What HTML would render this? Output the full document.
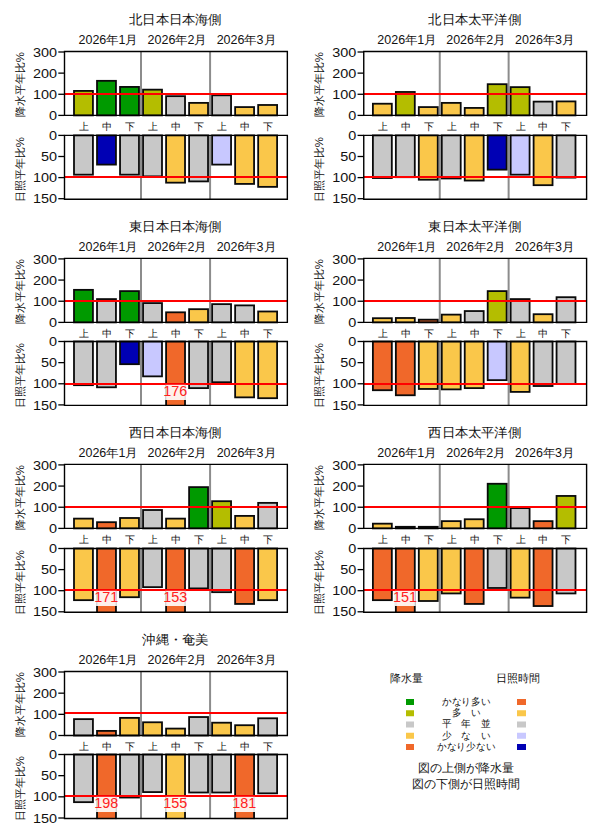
<!DOCTYPE html>
<html lang="ja"><head><meta charset="utf-8"><title>平年比</title>
<style>
html,body{margin:0;padding:0;background:#fff;width:600px;height:840px;overflow:hidden}
svg{display:block}
text{font-family:"Liberation Sans",sans-serif;fill:#111}
.t{font-size:13px}
.m{font-size:12px}
.n{font-size:13px}
.k{font-size:11px}
.ya{font-size:11.4px}
.ov{font-size:14.4px;fill:#ff2020}
.lg{font-size:11.3px}
.lb{font-size:11.5px}
.ln{font-size:10px}
.bar{stroke:#0a0a0a;stroke-width:1.8}
.rl{stroke:#ff0000;stroke-width:2}
.dv{stroke:#8c8c8c;stroke-width:2}
.fr{fill:none;stroke:#000;stroke-width:1.4}
.tk{stroke:#000;stroke-width:1.3}
</style></head><body>
<svg width="600" height="840" viewBox="0 0 600 840">
<g>
<text class="t" transform="translate(175.4 23.6) scale(1.035 1)" text-anchor="middle">北日本日本海側</text>
<text class="m" transform="translate(108.09 43.8) scale(1.04 1)" text-anchor="middle">2026年1月</text>
<text class="m" transform="translate(177.15 43.8) scale(1.04 1)" text-anchor="middle">2026年2月</text>
<text class="m" transform="translate(246.21 43.8) scale(1.04 1)" text-anchor="middle">2026年3月</text>
<line class="dv" x1="141.02" y1="51.5" x2="141.02" y2="115.4"/>
<line class="dv" x1="141.02" y1="135.4" x2="141.02" y2="199.2"/>
<line class="dv" x1="210.08" y1="51.5" x2="210.08" y2="115.4"/>
<line class="dv" x1="210.08" y1="135.4" x2="210.08" y2="199.2"/>
<rect x="74" y="90.91" width="18.93" height="24.49" fill="#b4bd00" class="bar"/>
<rect x="97.02" y="80.83" width="18.93" height="34.57" fill="#009a00" class="bar"/>
<rect x="120.04" y="86.92" width="18.93" height="28.48" fill="#009a00" class="bar"/>
<rect x="143.06" y="89.65" width="18.93" height="25.75" fill="#b4bd00" class="bar"/>
<rect x="166.09" y="96.16" width="18.93" height="19.24" fill="#c8c8c8" class="bar"/>
<rect x="189.1" y="102.88" width="18.93" height="12.52" fill="#fac74a" class="bar"/>
<rect x="212.12" y="95.32" width="18.93" height="20.08" fill="#c8c8c8" class="bar"/>
<rect x="235.14" y="107.08" width="18.93" height="8.32" fill="#fac74a" class="bar"/>
<rect x="258.17" y="104.98" width="18.93" height="10.42" fill="#fac74a" class="bar"/>
<rect x="74" y="135.4" width="18.93" height="39.28" fill="#c8c8c8" class="bar"/>
<rect x="97.02" y="135.4" width="18.93" height="29.2" fill="#0000b4" class="bar"/>
<rect x="120.04" y="135.4" width="18.93" height="39.28" fill="#c8c8c8" class="bar"/>
<rect x="143.06" y="135.4" width="18.93" height="40.96" fill="#c8c8c8" class="bar"/>
<rect x="166.09" y="135.4" width="18.93" height="47.26" fill="#fac74a" class="bar"/>
<rect x="189.1" y="135.4" width="18.93" height="46" fill="#c8c8c8" class="bar"/>
<rect x="212.12" y="135.4" width="18.93" height="29.2" fill="#c8c8ff" class="bar"/>
<rect x="235.14" y="135.4" width="18.93" height="48.52" fill="#fac74a" class="bar"/>
<rect x="258.17" y="135.4" width="18.93" height="51.46" fill="#fac74a" class="bar"/>
<rect x="63.5" y="199.8" width="224.85" height="7" fill="#fff"/>
<line class="rl" x1="64.5" y1="93.9" x2="287.35" y2="93.9"/>
<line class="rl" x1="64.5" y1="177.05" x2="287.35" y2="177.05"/>
<path class="fr" d="M64.5 51.5H287.35V115.4H64.5Z"/>
<path class="fr" d="M64.5 135.4H287.35V199.2H64.5Z"/>
<line class="tk" x1="58.3" y1="115.4" x2="64.5" y2="115.4"/>
<text class="n" transform="translate(57 120) scale(1.11 1)" text-anchor="end">0</text>
<line class="tk" x1="58.3" y1="94.27" x2="64.5" y2="94.27"/>
<text class="n" transform="translate(57 98.87) scale(1.11 1)" text-anchor="end">100</text>
<line class="tk" x1="58.3" y1="73.13" x2="64.5" y2="73.13"/>
<text class="n" transform="translate(57 77.73) scale(1.11 1)" text-anchor="end">200</text>
<line class="tk" x1="58.3" y1="52" x2="64.5" y2="52"/>
<text class="n" transform="translate(57 56.6) scale(1.11 1)" text-anchor="end">300</text>
<line class="tk" x1="58.3" y1="135.4" x2="64.5" y2="135.4"/>
<text class="n" transform="translate(57 140) scale(1.11 1)" text-anchor="end">0</text>
<line class="tk" x1="58.3" y1="156.5" x2="64.5" y2="156.5"/>
<text class="n" transform="translate(57 161.1) scale(1.11 1)" text-anchor="end">50</text>
<line class="tk" x1="58.3" y1="177.6" x2="64.5" y2="177.6"/>
<text class="n" transform="translate(57 182.2) scale(1.11 1)" text-anchor="end">100</text>
<line class="tk" x1="58.3" y1="198.7" x2="64.5" y2="198.7"/>
<text class="n" transform="translate(57 203.3) scale(1.11 1)" text-anchor="end">150</text>
<text class="ya" transform="translate(23.8 84.7) rotate(-90)" text-anchor="middle">降水平年比%</text>
<text class="ya" transform="translate(23.8 169.6) rotate(-90)" text-anchor="middle">日照平年比%</text>
<text class="k" transform="translate(83.87 130.3) scale(0.92)" text-anchor="middle">上</text>
<text class="k" transform="translate(106.89 130.3) scale(0.92)" text-anchor="middle">中</text>
<text class="k" transform="translate(129.91 130.3) scale(0.92)" text-anchor="middle">下</text>
<text class="k" transform="translate(152.93 130.3) scale(0.92)" text-anchor="middle">上</text>
<text class="k" transform="translate(175.95 130.3) scale(0.92)" text-anchor="middle">中</text>
<text class="k" transform="translate(198.97 130.3) scale(0.92)" text-anchor="middle">下</text>
<text class="k" transform="translate(221.99 130.3) scale(0.92)" text-anchor="middle">上</text>
<text class="k" transform="translate(245.01 130.3) scale(0.92)" text-anchor="middle">中</text>
<text class="k" transform="translate(268.03 130.3) scale(0.92)" text-anchor="middle">下</text>
</g>
<g>
<text class="t" transform="translate(474.65 23.6) scale(1.035 1)" text-anchor="middle">北日本太平洋側</text>
<text class="m" transform="translate(406.91 43.8) scale(1.04 1)" text-anchor="middle">2026年1月</text>
<text class="m" transform="translate(475.79 43.8) scale(1.04 1)" text-anchor="middle">2026年2月</text>
<text class="m" transform="translate(544.67 43.8) scale(1.04 1)" text-anchor="middle">2026年3月</text>
<line class="dv" x1="439.75" y1="51.5" x2="439.75" y2="115.4"/>
<line class="dv" x1="439.75" y1="135.4" x2="439.75" y2="199.2"/>
<line class="dv" x1="508.63" y1="51.5" x2="508.63" y2="115.4"/>
<line class="dv" x1="508.63" y1="135.4" x2="508.63" y2="199.2"/>
<rect x="372.89" y="103.72" width="18.93" height="11.68" fill="#fac74a" class="bar"/>
<rect x="395.85" y="91.96" width="18.93" height="23.44" fill="#b4bd00" class="bar"/>
<rect x="418.81" y="107.08" width="18.93" height="8.32" fill="#fac74a" class="bar"/>
<rect x="441.77" y="102.88" width="18.93" height="12.52" fill="#fac74a" class="bar"/>
<rect x="464.73" y="107.92" width="18.93" height="7.48" fill="#fac74a" class="bar"/>
<rect x="487.69" y="84.19" width="18.93" height="31.21" fill="#b4bd00" class="bar"/>
<rect x="510.65" y="87.13" width="18.93" height="28.27" fill="#b4bd00" class="bar"/>
<rect x="533.61" y="101.62" width="18.93" height="13.78" fill="#c8c8c8" class="bar"/>
<rect x="556.56" y="101.41" width="18.93" height="13.99" fill="#fac74a" class="bar"/>
<rect x="372.89" y="135.4" width="18.93" height="42.64" fill="#c8c8c8" class="bar"/>
<rect x="395.85" y="135.4" width="18.93" height="41.8" fill="#c8c8c8" class="bar"/>
<rect x="418.81" y="135.4" width="18.93" height="44.32" fill="#fac74a" class="bar"/>
<rect x="441.77" y="135.4" width="18.93" height="43.06" fill="#c8c8c8" class="bar"/>
<rect x="464.73" y="135.4" width="18.93" height="45.16" fill="#fac74a" class="bar"/>
<rect x="487.69" y="135.4" width="18.93" height="34.24" fill="#0000b4" class="bar"/>
<rect x="510.65" y="135.4" width="18.93" height="39.28" fill="#c8c8ff" class="bar"/>
<rect x="533.61" y="135.4" width="18.93" height="49.78" fill="#fac74a" class="bar"/>
<rect x="556.56" y="135.4" width="18.93" height="42.22" fill="#c8c8c8" class="bar"/>
<rect x="362.75" y="199.8" width="224.85" height="7" fill="#fff"/>
<line class="rl" x1="363.75" y1="93.9" x2="586.6" y2="93.9"/>
<line class="rl" x1="363.75" y1="177.05" x2="586.6" y2="177.05"/>
<path class="fr" d="M363.75 51.5H586.6V115.4H363.75Z"/>
<path class="fr" d="M363.75 135.4H586.6V199.2H363.75Z"/>
<line class="tk" x1="357.55" y1="115.4" x2="363.75" y2="115.4"/>
<text class="n" transform="translate(356.25 120) scale(1.11 1)" text-anchor="end">0</text>
<line class="tk" x1="357.55" y1="94.27" x2="363.75" y2="94.27"/>
<text class="n" transform="translate(356.25 98.87) scale(1.11 1)" text-anchor="end">100</text>
<line class="tk" x1="357.55" y1="73.13" x2="363.75" y2="73.13"/>
<text class="n" transform="translate(356.25 77.73) scale(1.11 1)" text-anchor="end">200</text>
<line class="tk" x1="357.55" y1="52" x2="363.75" y2="52"/>
<text class="n" transform="translate(356.25 56.6) scale(1.11 1)" text-anchor="end">300</text>
<line class="tk" x1="357.55" y1="135.4" x2="363.75" y2="135.4"/>
<text class="n" transform="translate(356.25 140) scale(1.11 1)" text-anchor="end">0</text>
<line class="tk" x1="357.55" y1="156.5" x2="363.75" y2="156.5"/>
<text class="n" transform="translate(356.25 161.1) scale(1.11 1)" text-anchor="end">50</text>
<line class="tk" x1="357.55" y1="177.6" x2="363.75" y2="177.6"/>
<text class="n" transform="translate(356.25 182.2) scale(1.11 1)" text-anchor="end">100</text>
<line class="tk" x1="357.55" y1="198.7" x2="363.75" y2="198.7"/>
<text class="n" transform="translate(356.25 203.3) scale(1.11 1)" text-anchor="end">150</text>
<text class="ya" transform="translate(323.05 84.7) rotate(-90)" text-anchor="middle">降水平年比%</text>
<text class="ya" transform="translate(323.05 169.6) rotate(-90)" text-anchor="middle">日照平年比%</text>
<text class="k" transform="translate(382.75 130.3) scale(0.92)" text-anchor="middle">上</text>
<text class="k" transform="translate(405.71 130.3) scale(0.92)" text-anchor="middle">中</text>
<text class="k" transform="translate(428.67 130.3) scale(0.92)" text-anchor="middle">下</text>
<text class="k" transform="translate(451.63 130.3) scale(0.92)" text-anchor="middle">上</text>
<text class="k" transform="translate(474.59 130.3) scale(0.92)" text-anchor="middle">中</text>
<text class="k" transform="translate(497.55 130.3) scale(0.92)" text-anchor="middle">下</text>
<text class="k" transform="translate(520.51 130.3) scale(0.92)" text-anchor="middle">上</text>
<text class="k" transform="translate(543.47 130.3) scale(0.92)" text-anchor="middle">中</text>
<text class="k" transform="translate(566.43 130.3) scale(0.92)" text-anchor="middle">下</text>
</g>
<g>
<text class="t" transform="translate(175.4 230.5) scale(1.035 1)" text-anchor="middle">東日本日本海側</text>
<text class="m" transform="translate(108.09 250.7) scale(1.04 1)" text-anchor="middle">2026年1月</text>
<text class="m" transform="translate(177.15 250.7) scale(1.04 1)" text-anchor="middle">2026年2月</text>
<text class="m" transform="translate(246.21 250.7) scale(1.04 1)" text-anchor="middle">2026年3月</text>
<line class="dv" x1="141.02" y1="258.4" x2="141.02" y2="322.4"/>
<line class="dv" x1="141.02" y1="341.5" x2="141.02" y2="405.4"/>
<line class="dv" x1="210.08" y1="258.4" x2="210.08" y2="322.4"/>
<line class="dv" x1="210.08" y1="341.5" x2="210.08" y2="405.4"/>
<rect x="74" y="289.85" width="18.93" height="32.55" fill="#009a00" class="bar"/>
<rect x="97.02" y="299.09" width="18.93" height="23.31" fill="#c8c8c8" class="bar"/>
<rect x="120.04" y="291.11" width="18.93" height="31.29" fill="#009a00" class="bar"/>
<rect x="143.06" y="303.08" width="18.93" height="19.32" fill="#c8c8c8" class="bar"/>
<rect x="166.09" y="312.32" width="18.93" height="10.08" fill="#f0682a" class="bar"/>
<rect x="189.1" y="309.17" width="18.93" height="13.23" fill="#fac74a" class="bar"/>
<rect x="212.12" y="304.13" width="18.93" height="18.27" fill="#c8c8c8" class="bar"/>
<rect x="235.14" y="305.39" width="18.93" height="17.01" fill="#c8c8c8" class="bar"/>
<rect x="258.17" y="311.48" width="18.93" height="10.92" fill="#fac74a" class="bar"/>
<rect x="74" y="341.5" width="18.93" height="43.68" fill="#c8c8c8" class="bar"/>
<rect x="97.02" y="341.5" width="18.93" height="45.78" fill="#c8c8c8" class="bar"/>
<rect x="120.04" y="341.5" width="18.93" height="22.68" fill="#0000b4" class="bar"/>
<rect x="143.06" y="341.5" width="18.93" height="34.86" fill="#c8c8ff" class="bar"/>
<rect x="166.09" y="341.5" width="18.93" height="67.9" fill="#f0682a" class="bar"/>
<rect x="189.1" y="341.5" width="18.93" height="46.62" fill="#c8c8c8" class="bar"/>
<rect x="212.12" y="341.5" width="18.93" height="40.74" fill="#c8c8c8" class="bar"/>
<rect x="235.14" y="341.5" width="18.93" height="55.86" fill="#fac74a" class="bar"/>
<rect x="258.17" y="341.5" width="18.93" height="56.7" fill="#fac74a" class="bar"/>
<rect x="63.5" y="406" width="224.85" height="7" fill="#fff"/>
<line class="rl" x1="64.5" y1="300.9" x2="287.35" y2="300.9"/>
<line class="rl" x1="64.5" y1="383.9" x2="287.35" y2="383.9"/>
<rect x="165.15" y="384.8" width="20.8" height="15.2" fill="#fff" fill-opacity="0.9"/>
<text class="ov" x="175.25" y="396.1" text-anchor="middle">176</text>
<path class="fr" d="M64.5 258.4H287.35V322.4H64.5Z"/>
<path class="fr" d="M64.5 341.5H287.35V405.4H64.5Z"/>
<line class="tk" x1="58.3" y1="322.4" x2="64.5" y2="322.4"/>
<text class="n" transform="translate(57 327) scale(1.11 1)" text-anchor="end">0</text>
<line class="tk" x1="58.3" y1="301.23" x2="64.5" y2="301.23"/>
<text class="n" transform="translate(57 305.83) scale(1.11 1)" text-anchor="end">100</text>
<line class="tk" x1="58.3" y1="280.07" x2="64.5" y2="280.07"/>
<text class="n" transform="translate(57 284.67) scale(1.11 1)" text-anchor="end">200</text>
<line class="tk" x1="58.3" y1="258.9" x2="64.5" y2="258.9"/>
<text class="n" transform="translate(57 263.5) scale(1.11 1)" text-anchor="end">300</text>
<line class="tk" x1="58.3" y1="341.5" x2="64.5" y2="341.5"/>
<text class="n" transform="translate(57 346.1) scale(1.11 1)" text-anchor="end">0</text>
<line class="tk" x1="58.3" y1="362.63" x2="64.5" y2="362.63"/>
<text class="n" transform="translate(57 367.23) scale(1.11 1)" text-anchor="end">50</text>
<line class="tk" x1="58.3" y1="383.77" x2="64.5" y2="383.77"/>
<text class="n" transform="translate(57 388.37) scale(1.11 1)" text-anchor="end">100</text>
<line class="tk" x1="58.3" y1="404.9" x2="64.5" y2="404.9"/>
<text class="n" transform="translate(57 409.5) scale(1.11 1)" text-anchor="end">150</text>
<text class="ya" transform="translate(23.8 291.7) rotate(-90)" text-anchor="middle">降水平年比%</text>
<text class="ya" transform="translate(23.8 375.7) rotate(-90)" text-anchor="middle">日照平年比%</text>
<text class="k" transform="translate(83.87 337.3) scale(0.92)" text-anchor="middle">上</text>
<text class="k" transform="translate(106.89 337.3) scale(0.92)" text-anchor="middle">中</text>
<text class="k" transform="translate(129.91 337.3) scale(0.92)" text-anchor="middle">下</text>
<text class="k" transform="translate(152.93 337.3) scale(0.92)" text-anchor="middle">上</text>
<text class="k" transform="translate(175.95 337.3) scale(0.92)" text-anchor="middle">中</text>
<text class="k" transform="translate(198.97 337.3) scale(0.92)" text-anchor="middle">下</text>
<text class="k" transform="translate(221.99 337.3) scale(0.92)" text-anchor="middle">上</text>
<text class="k" transform="translate(245.01 337.3) scale(0.92)" text-anchor="middle">中</text>
<text class="k" transform="translate(268.03 337.3) scale(0.92)" text-anchor="middle">下</text>
</g>
<g>
<text class="t" transform="translate(474.65 230.5) scale(1.035 1)" text-anchor="middle">東日本太平洋側</text>
<text class="m" transform="translate(406.91 250.7) scale(1.04 1)" text-anchor="middle">2026年1月</text>
<text class="m" transform="translate(475.79 250.7) scale(1.04 1)" text-anchor="middle">2026年2月</text>
<text class="m" transform="translate(544.67 250.7) scale(1.04 1)" text-anchor="middle">2026年3月</text>
<line class="dv" x1="439.75" y1="258.4" x2="439.75" y2="322.4"/>
<line class="dv" x1="439.75" y1="341.5" x2="439.75" y2="405.4"/>
<line class="dv" x1="508.63" y1="258.4" x2="508.63" y2="322.4"/>
<line class="dv" x1="508.63" y1="341.5" x2="508.63" y2="405.4"/>
<rect x="372.89" y="318.2" width="18.93" height="4.2" fill="#fac74a" class="bar"/>
<rect x="395.85" y="317.99" width="18.93" height="4.41" fill="#fac74a" class="bar"/>
<rect x="418.81" y="319.67" width="18.93" height="2.73" fill="#f0682a" class="bar"/>
<rect x="441.77" y="314.63" width="18.93" height="7.77" fill="#fac74a" class="bar"/>
<rect x="464.73" y="311.06" width="18.93" height="11.34" fill="#c8c8c8" class="bar"/>
<rect x="487.69" y="291.11" width="18.93" height="31.29" fill="#b4bd00" class="bar"/>
<rect x="510.65" y="299.09" width="18.93" height="23.31" fill="#c8c8c8" class="bar"/>
<rect x="533.61" y="314.21" width="18.93" height="8.19" fill="#fac74a" class="bar"/>
<rect x="556.56" y="297.2" width="18.93" height="25.2" fill="#c8c8c8" class="bar"/>
<rect x="372.89" y="341.5" width="18.93" height="48.72" fill="#f0682a" class="bar"/>
<rect x="395.85" y="341.5" width="18.93" height="53.76" fill="#f0682a" class="bar"/>
<rect x="418.81" y="341.5" width="18.93" height="47.46" fill="#fac74a" class="bar"/>
<rect x="441.77" y="341.5" width="18.93" height="47.88" fill="#fac74a" class="bar"/>
<rect x="464.73" y="341.5" width="18.93" height="46.62" fill="#fac74a" class="bar"/>
<rect x="487.69" y="341.5" width="18.93" height="38.64" fill="#c8c8ff" class="bar"/>
<rect x="510.65" y="341.5" width="18.93" height="50.4" fill="#fac74a" class="bar"/>
<rect x="533.61" y="341.5" width="18.93" height="44.52" fill="#c8c8c8" class="bar"/>
<rect x="556.56" y="341.5" width="18.93" height="42.42" fill="#c8c8c8" class="bar"/>
<rect x="362.75" y="406" width="224.85" height="7" fill="#fff"/>
<line class="rl" x1="363.75" y1="300.9" x2="586.6" y2="300.9"/>
<line class="rl" x1="363.75" y1="383.9" x2="586.6" y2="383.9"/>
<path class="fr" d="M363.75 258.4H586.6V322.4H363.75Z"/>
<path class="fr" d="M363.75 341.5H586.6V405.4H363.75Z"/>
<line class="tk" x1="357.55" y1="322.4" x2="363.75" y2="322.4"/>
<text class="n" transform="translate(356.25 327) scale(1.11 1)" text-anchor="end">0</text>
<line class="tk" x1="357.55" y1="301.23" x2="363.75" y2="301.23"/>
<text class="n" transform="translate(356.25 305.83) scale(1.11 1)" text-anchor="end">100</text>
<line class="tk" x1="357.55" y1="280.07" x2="363.75" y2="280.07"/>
<text class="n" transform="translate(356.25 284.67) scale(1.11 1)" text-anchor="end">200</text>
<line class="tk" x1="357.55" y1="258.9" x2="363.75" y2="258.9"/>
<text class="n" transform="translate(356.25 263.5) scale(1.11 1)" text-anchor="end">300</text>
<line class="tk" x1="357.55" y1="341.5" x2="363.75" y2="341.5"/>
<text class="n" transform="translate(356.25 346.1) scale(1.11 1)" text-anchor="end">0</text>
<line class="tk" x1="357.55" y1="362.63" x2="363.75" y2="362.63"/>
<text class="n" transform="translate(356.25 367.23) scale(1.11 1)" text-anchor="end">50</text>
<line class="tk" x1="357.55" y1="383.77" x2="363.75" y2="383.77"/>
<text class="n" transform="translate(356.25 388.37) scale(1.11 1)" text-anchor="end">100</text>
<line class="tk" x1="357.55" y1="404.9" x2="363.75" y2="404.9"/>
<text class="n" transform="translate(356.25 409.5) scale(1.11 1)" text-anchor="end">150</text>
<text class="ya" transform="translate(323.05 291.7) rotate(-90)" text-anchor="middle">降水平年比%</text>
<text class="ya" transform="translate(323.05 375.7) rotate(-90)" text-anchor="middle">日照平年比%</text>
<text class="k" transform="translate(382.75 337.3) scale(0.92)" text-anchor="middle">上</text>
<text class="k" transform="translate(405.71 337.3) scale(0.92)" text-anchor="middle">中</text>
<text class="k" transform="translate(428.67 337.3) scale(0.92)" text-anchor="middle">下</text>
<text class="k" transform="translate(451.63 337.3) scale(0.92)" text-anchor="middle">上</text>
<text class="k" transform="translate(474.59 337.3) scale(0.92)" text-anchor="middle">中</text>
<text class="k" transform="translate(497.55 337.3) scale(0.92)" text-anchor="middle">下</text>
<text class="k" transform="translate(520.51 337.3) scale(0.92)" text-anchor="middle">上</text>
<text class="k" transform="translate(543.47 337.3) scale(0.92)" text-anchor="middle">中</text>
<text class="k" transform="translate(566.43 337.3) scale(0.92)" text-anchor="middle">下</text>
</g>
<g>
<text class="t" transform="translate(175.4 436.5) scale(1.035 1)" text-anchor="middle">西日本日本海側</text>
<text class="m" transform="translate(108.09 456.7) scale(1.04 1)" text-anchor="middle">2026年1月</text>
<text class="m" transform="translate(177.15 456.7) scale(1.04 1)" text-anchor="middle">2026年2月</text>
<text class="m" transform="translate(246.21 456.7) scale(1.04 1)" text-anchor="middle">2026年3月</text>
<line class="dv" x1="141.02" y1="464.4" x2="141.02" y2="528.4"/>
<line class="dv" x1="141.02" y1="548.5" x2="141.02" y2="612.3"/>
<line class="dv" x1="210.08" y1="464.4" x2="210.08" y2="528.4"/>
<line class="dv" x1="210.08" y1="548.5" x2="210.08" y2="612.3"/>
<rect x="74" y="518.62" width="18.93" height="9.78" fill="#fac74a" class="bar"/>
<rect x="97.02" y="522.19" width="18.93" height="6.21" fill="#f0682a" class="bar"/>
<rect x="120.04" y="517.99" width="18.93" height="10.41" fill="#fac74a" class="bar"/>
<rect x="143.06" y="510.01" width="18.93" height="18.39" fill="#c8c8c8" class="bar"/>
<rect x="166.09" y="518.62" width="18.93" height="9.78" fill="#fac74a" class="bar"/>
<rect x="189.1" y="487.12" width="18.93" height="41.28" fill="#009a00" class="bar"/>
<rect x="212.12" y="501.19" width="18.93" height="27.21" fill="#b4bd00" class="bar"/>
<rect x="235.14" y="515.89" width="18.93" height="12.51" fill="#fac74a" class="bar"/>
<rect x="258.17" y="502.87" width="18.93" height="25.53" fill="#c8c8c8" class="bar"/>
<rect x="74" y="548.5" width="18.93" height="51.66" fill="#fac74a" class="bar"/>
<rect x="97.02" y="548.5" width="18.93" height="67.8" fill="#f0682a" class="bar"/>
<rect x="120.04" y="548.5" width="18.93" height="48.72" fill="#fac74a" class="bar"/>
<rect x="143.06" y="548.5" width="18.93" height="38.64" fill="#c8c8c8" class="bar"/>
<rect x="166.09" y="548.5" width="18.93" height="67.8" fill="#f0682a" class="bar"/>
<rect x="189.1" y="548.5" width="18.93" height="39.9" fill="#c8c8c8" class="bar"/>
<rect x="212.12" y="548.5" width="18.93" height="43.68" fill="#c8c8c8" class="bar"/>
<rect x="235.14" y="548.5" width="18.93" height="55.44" fill="#f0682a" class="bar"/>
<rect x="258.17" y="548.5" width="18.93" height="51.66" fill="#fac74a" class="bar"/>
<rect x="63.5" y="612.9" width="224.85" height="7" fill="#fff"/>
<line class="rl" x1="64.5" y1="507" x2="287.35" y2="507"/>
<line class="rl" x1="64.5" y1="589.9" x2="287.35" y2="589.9"/>
<rect x="96.09" y="590.8" width="20.8" height="15.2" fill="#fff" fill-opacity="0.9"/>
<text class="ov" x="106.19" y="602.1" text-anchor="middle">171</text>
<rect x="165.15" y="590.8" width="20.8" height="15.2" fill="#fff" fill-opacity="0.9"/>
<text class="ov" x="175.25" y="602.1" text-anchor="middle">153</text>
<path class="fr" d="M64.5 464.4H287.35V528.4H64.5Z"/>
<path class="fr" d="M64.5 548.5H287.35V612.3H64.5Z"/>
<line class="tk" x1="58.3" y1="528.4" x2="64.5" y2="528.4"/>
<text class="n" transform="translate(57 533) scale(1.11 1)" text-anchor="end">0</text>
<line class="tk" x1="58.3" y1="507.23" x2="64.5" y2="507.23"/>
<text class="n" transform="translate(57 511.83) scale(1.11 1)" text-anchor="end">100</text>
<line class="tk" x1="58.3" y1="486.07" x2="64.5" y2="486.07"/>
<text class="n" transform="translate(57 490.67) scale(1.11 1)" text-anchor="end">200</text>
<line class="tk" x1="58.3" y1="464.9" x2="64.5" y2="464.9"/>
<text class="n" transform="translate(57 469.5) scale(1.11 1)" text-anchor="end">300</text>
<line class="tk" x1="58.3" y1="548.5" x2="64.5" y2="548.5"/>
<text class="n" transform="translate(57 553.1) scale(1.11 1)" text-anchor="end">0</text>
<line class="tk" x1="58.3" y1="569.6" x2="64.5" y2="569.6"/>
<text class="n" transform="translate(57 574.2) scale(1.11 1)" text-anchor="end">50</text>
<line class="tk" x1="58.3" y1="590.7" x2="64.5" y2="590.7"/>
<text class="n" transform="translate(57 595.3) scale(1.11 1)" text-anchor="end">100</text>
<line class="tk" x1="58.3" y1="611.8" x2="64.5" y2="611.8"/>
<text class="n" transform="translate(57 616.4) scale(1.11 1)" text-anchor="end">150</text>
<text class="ya" transform="translate(23.8 497.7) rotate(-90)" text-anchor="middle">降水平年比%</text>
<text class="ya" transform="translate(23.8 582.7) rotate(-90)" text-anchor="middle">日照平年比%</text>
<text class="k" transform="translate(83.87 543.3) scale(0.92)" text-anchor="middle">上</text>
<text class="k" transform="translate(106.89 543.3) scale(0.92)" text-anchor="middle">中</text>
<text class="k" transform="translate(129.91 543.3) scale(0.92)" text-anchor="middle">下</text>
<text class="k" transform="translate(152.93 543.3) scale(0.92)" text-anchor="middle">上</text>
<text class="k" transform="translate(175.95 543.3) scale(0.92)" text-anchor="middle">中</text>
<text class="k" transform="translate(198.97 543.3) scale(0.92)" text-anchor="middle">下</text>
<text class="k" transform="translate(221.99 543.3) scale(0.92)" text-anchor="middle">上</text>
<text class="k" transform="translate(245.01 543.3) scale(0.92)" text-anchor="middle">中</text>
<text class="k" transform="translate(268.03 543.3) scale(0.92)" text-anchor="middle">下</text>
</g>
<g>
<text class="t" transform="translate(474.65 436.5) scale(1.035 1)" text-anchor="middle">西日本太平洋側</text>
<text class="m" transform="translate(406.91 456.7) scale(1.04 1)" text-anchor="middle">2026年1月</text>
<text class="m" transform="translate(475.79 456.7) scale(1.04 1)" text-anchor="middle">2026年2月</text>
<text class="m" transform="translate(544.67 456.7) scale(1.04 1)" text-anchor="middle">2026年3月</text>
<line class="dv" x1="439.75" y1="464.4" x2="439.75" y2="528.4"/>
<line class="dv" x1="439.75" y1="548.5" x2="439.75" y2="612.3"/>
<line class="dv" x1="508.63" y1="464.4" x2="508.63" y2="528.4"/>
<line class="dv" x1="508.63" y1="548.5" x2="508.63" y2="612.3"/>
<rect x="372.89" y="523.66" width="18.93" height="4.74" fill="#fac74a" class="bar"/>
<rect x="395.85" y="526.81" width="18.93" height="1.59" fill="#f0682a" class="bar"/>
<rect x="418.81" y="526.81" width="18.93" height="1.59" fill="#f0682a" class="bar"/>
<rect x="441.77" y="521.14" width="18.93" height="7.26" fill="#fac74a" class="bar"/>
<rect x="464.73" y="519.25" width="18.93" height="9.15" fill="#fac74a" class="bar"/>
<rect x="487.69" y="483.76" width="18.93" height="44.64" fill="#009a00" class="bar"/>
<rect x="510.65" y="508.12" width="18.93" height="20.28" fill="#c8c8c8" class="bar"/>
<rect x="533.61" y="521.14" width="18.93" height="7.26" fill="#f0682a" class="bar"/>
<rect x="556.56" y="495.94" width="18.93" height="32.46" fill="#b4bd00" class="bar"/>
<rect x="372.89" y="548.5" width="18.93" height="51.66" fill="#f0682a" class="bar"/>
<rect x="395.85" y="548.5" width="18.93" height="67.8" fill="#f0682a" class="bar"/>
<rect x="418.81" y="548.5" width="18.93" height="52.5" fill="#fac74a" class="bar"/>
<rect x="441.77" y="548.5" width="18.93" height="44.94" fill="#fac74a" class="bar"/>
<rect x="464.73" y="548.5" width="18.93" height="55.44" fill="#f0682a" class="bar"/>
<rect x="487.69" y="548.5" width="18.93" height="39.48" fill="#c8c8c8" class="bar"/>
<rect x="510.65" y="548.5" width="18.93" height="49.14" fill="#fac74a" class="bar"/>
<rect x="533.61" y="548.5" width="18.93" height="57.54" fill="#f0682a" class="bar"/>
<rect x="556.56" y="548.5" width="18.93" height="44.94" fill="#c8c8c8" class="bar"/>
<rect x="362.75" y="612.9" width="224.85" height="7" fill="#fff"/>
<line class="rl" x1="363.75" y1="507" x2="586.6" y2="507"/>
<line class="rl" x1="363.75" y1="589.9" x2="586.6" y2="589.9"/>
<rect x="394.91" y="590.8" width="20.8" height="15.2" fill="#fff" fill-opacity="0.9"/>
<text class="ov" x="405.01" y="602.1" text-anchor="middle">151</text>
<path class="fr" d="M363.75 464.4H586.6V528.4H363.75Z"/>
<path class="fr" d="M363.75 548.5H586.6V612.3H363.75Z"/>
<line class="tk" x1="357.55" y1="528.4" x2="363.75" y2="528.4"/>
<text class="n" transform="translate(356.25 533) scale(1.11 1)" text-anchor="end">0</text>
<line class="tk" x1="357.55" y1="507.23" x2="363.75" y2="507.23"/>
<text class="n" transform="translate(356.25 511.83) scale(1.11 1)" text-anchor="end">100</text>
<line class="tk" x1="357.55" y1="486.07" x2="363.75" y2="486.07"/>
<text class="n" transform="translate(356.25 490.67) scale(1.11 1)" text-anchor="end">200</text>
<line class="tk" x1="357.55" y1="464.9" x2="363.75" y2="464.9"/>
<text class="n" transform="translate(356.25 469.5) scale(1.11 1)" text-anchor="end">300</text>
<line class="tk" x1="357.55" y1="548.5" x2="363.75" y2="548.5"/>
<text class="n" transform="translate(356.25 553.1) scale(1.11 1)" text-anchor="end">0</text>
<line class="tk" x1="357.55" y1="569.6" x2="363.75" y2="569.6"/>
<text class="n" transform="translate(356.25 574.2) scale(1.11 1)" text-anchor="end">50</text>
<line class="tk" x1="357.55" y1="590.7" x2="363.75" y2="590.7"/>
<text class="n" transform="translate(356.25 595.3) scale(1.11 1)" text-anchor="end">100</text>
<line class="tk" x1="357.55" y1="611.8" x2="363.75" y2="611.8"/>
<text class="n" transform="translate(356.25 616.4) scale(1.11 1)" text-anchor="end">150</text>
<text class="ya" transform="translate(323.05 497.7) rotate(-90)" text-anchor="middle">降水平年比%</text>
<text class="ya" transform="translate(323.05 582.7) rotate(-90)" text-anchor="middle">日照平年比%</text>
<text class="k" transform="translate(382.75 543.3) scale(0.92)" text-anchor="middle">上</text>
<text class="k" transform="translate(405.71 543.3) scale(0.92)" text-anchor="middle">中</text>
<text class="k" transform="translate(428.67 543.3) scale(0.92)" text-anchor="middle">下</text>
<text class="k" transform="translate(451.63 543.3) scale(0.92)" text-anchor="middle">上</text>
<text class="k" transform="translate(474.59 543.3) scale(0.92)" text-anchor="middle">中</text>
<text class="k" transform="translate(497.55 543.3) scale(0.92)" text-anchor="middle">下</text>
<text class="k" transform="translate(520.51 543.3) scale(0.92)" text-anchor="middle">上</text>
<text class="k" transform="translate(543.47 543.3) scale(0.92)" text-anchor="middle">中</text>
<text class="k" transform="translate(566.43 543.3) scale(0.92)" text-anchor="middle">下</text>
</g>
<g>
<text class="t" transform="translate(175.4 643.6) scale(1.035 1)" text-anchor="middle">沖縄・奄美</text>
<text class="m" transform="translate(108.09 663.8) scale(1.04 1)" text-anchor="middle">2026年1月</text>
<text class="m" transform="translate(177.15 663.8) scale(1.04 1)" text-anchor="middle">2026年2月</text>
<text class="m" transform="translate(246.21 663.8) scale(1.04 1)" text-anchor="middle">2026年3月</text>
<line class="dv" x1="141.02" y1="671.5" x2="141.02" y2="735.5"/>
<line class="dv" x1="141.02" y1="754.5" x2="141.02" y2="818.5"/>
<line class="dv" x1="210.08" y1="671.5" x2="210.08" y2="735.5"/>
<line class="dv" x1="210.08" y1="754.5" x2="210.08" y2="818.5"/>
<rect x="74" y="719.13" width="18.93" height="16.37" fill="#c8c8c8" class="bar"/>
<rect x="97.02" y="730.89" width="18.93" height="4.61" fill="#f0682a" class="bar"/>
<rect x="120.04" y="717.87" width="18.93" height="17.63" fill="#fac74a" class="bar"/>
<rect x="143.06" y="722.28" width="18.93" height="13.22" fill="#fac74a" class="bar"/>
<rect x="166.09" y="728.58" width="18.93" height="6.92" fill="#fac74a" class="bar"/>
<rect x="189.1" y="717.03" width="18.93" height="18.47" fill="#c8c8c8" class="bar"/>
<rect x="212.12" y="722.7" width="18.93" height="12.8" fill="#fac74a" class="bar"/>
<rect x="235.14" y="725.22" width="18.93" height="10.28" fill="#fac74a" class="bar"/>
<rect x="258.17" y="718.29" width="18.93" height="17.21" fill="#c8c8c8" class="bar"/>
<rect x="74" y="754.5" width="18.93" height="47.66" fill="#c8c8c8" class="bar"/>
<rect x="97.02" y="754.5" width="18.93" height="68" fill="#f0682a" class="bar"/>
<rect x="120.04" y="754.5" width="18.93" height="43.04" fill="#c8c8c8" class="bar"/>
<rect x="143.06" y="754.5" width="18.93" height="37.58" fill="#c8c8c8" class="bar"/>
<rect x="166.09" y="754.5" width="18.93" height="68" fill="#fac74a" class="bar"/>
<rect x="189.1" y="754.5" width="18.93" height="38" fill="#c8c8c8" class="bar"/>
<rect x="212.12" y="754.5" width="18.93" height="38" fill="#c8c8c8" class="bar"/>
<rect x="235.14" y="754.5" width="18.93" height="68" fill="#f0682a" class="bar"/>
<rect x="258.17" y="754.5" width="18.93" height="38.84" fill="#c8c8c8" class="bar"/>
<rect x="63.5" y="819.1" width="224.85" height="7" fill="#fff"/>
<line class="rl" x1="64.5" y1="713" x2="287.35" y2="713"/>
<line class="rl" x1="64.5" y1="795.9" x2="287.35" y2="795.9"/>
<rect x="96.09" y="796.8" width="20.8" height="15.2" fill="#fff" fill-opacity="0.9"/>
<text class="ov" x="106.19" y="808.1" text-anchor="middle">198</text>
<rect x="165.15" y="796.8" width="20.8" height="15.2" fill="#fff" fill-opacity="0.9"/>
<text class="ov" x="175.25" y="808.1" text-anchor="middle">155</text>
<rect x="234.21" y="796.8" width="20.8" height="15.2" fill="#fff" fill-opacity="0.9"/>
<text class="ov" x="244.31" y="808.1" text-anchor="middle">181</text>
<path class="fr" d="M64.5 671.5H287.35V735.5H64.5Z"/>
<path class="fr" d="M64.5 754.5H287.35V818.5H64.5Z"/>
<line class="tk" x1="58.3" y1="735.5" x2="64.5" y2="735.5"/>
<text class="n" transform="translate(57 740.1) scale(1.11 1)" text-anchor="end">0</text>
<line class="tk" x1="58.3" y1="714.33" x2="64.5" y2="714.33"/>
<text class="n" transform="translate(57 718.93) scale(1.11 1)" text-anchor="end">100</text>
<line class="tk" x1="58.3" y1="693.17" x2="64.5" y2="693.17"/>
<text class="n" transform="translate(57 697.77) scale(1.11 1)" text-anchor="end">200</text>
<line class="tk" x1="58.3" y1="672" x2="64.5" y2="672"/>
<text class="n" transform="translate(57 676.6) scale(1.11 1)" text-anchor="end">300</text>
<line class="tk" x1="58.3" y1="754.5" x2="64.5" y2="754.5"/>
<text class="n" transform="translate(57 759.1) scale(1.11 1)" text-anchor="end">0</text>
<line class="tk" x1="58.3" y1="775.67" x2="64.5" y2="775.67"/>
<text class="n" transform="translate(57 780.27) scale(1.11 1)" text-anchor="end">50</text>
<line class="tk" x1="58.3" y1="796.83" x2="64.5" y2="796.83"/>
<text class="n" transform="translate(57 801.43) scale(1.11 1)" text-anchor="end">100</text>
<line class="tk" x1="58.3" y1="818" x2="64.5" y2="818"/>
<text class="n" transform="translate(57 822.6) scale(1.11 1)" text-anchor="end">150</text>
<text class="ya" transform="translate(23.8 704.8) rotate(-90)" text-anchor="middle">降水平年比%</text>
<text class="ya" transform="translate(23.8 788.7) rotate(-90)" text-anchor="middle">日照平年比%</text>
<text class="k" transform="translate(83.87 750.4) scale(0.92)" text-anchor="middle">上</text>
<text class="k" transform="translate(106.89 750.4) scale(0.92)" text-anchor="middle">中</text>
<text class="k" transform="translate(129.91 750.4) scale(0.92)" text-anchor="middle">下</text>
<text class="k" transform="translate(152.93 750.4) scale(0.92)" text-anchor="middle">上</text>
<text class="k" transform="translate(175.95 750.4) scale(0.92)" text-anchor="middle">中</text>
<text class="k" transform="translate(198.97 750.4) scale(0.92)" text-anchor="middle">下</text>
<text class="k" transform="translate(221.99 750.4) scale(0.92)" text-anchor="middle">上</text>
<text class="k" transform="translate(245.01 750.4) scale(0.92)" text-anchor="middle">中</text>
<text class="k" transform="translate(268.03 750.4) scale(0.92)" text-anchor="middle">下</text>
</g>
<text class="lg" x="406" y="682" text-anchor="middle">降水量</text>
<text class="lg" x="518" y="682" text-anchor="middle">日照時間</text>
<rect x="406" y="699" width="8" height="6" fill="#009a00"/>
<rect x="517" y="699" width="9" height="6" fill="#f0682a"/>
<text class="ln" transform="translate(466.2 704.9) scale(0.96 1)" text-anchor="middle">かなり多い</text>
<rect x="406" y="710.25" width="8" height="6" fill="#b4bd00"/>
<rect x="517" y="710.25" width="9" height="6" fill="#fac74a"/>
<text class="ln" transform="translate(466.2 716.15) scale(0.96 1)" text-anchor="middle">多　い</text>
<rect x="406" y="721.5" width="8" height="6" fill="#c8c8c8"/>
<rect x="517" y="721.5" width="9" height="6" fill="#c8c8c8"/>
<text class="ln" transform="translate(466.2 727.4) scale(0.96 1)" text-anchor="middle">平　年　並</text>
<rect x="406" y="732.75" width="8" height="6" fill="#fac74a"/>
<rect x="517" y="732.75" width="9" height="6" fill="#c8c8ff"/>
<text class="ln" transform="translate(466.2 738.65) scale(0.96 1)" text-anchor="middle">少　な　い</text>
<rect x="406" y="744" width="8" height="6" fill="#f0682a"/>
<rect x="517" y="744" width="9" height="6" fill="#0000b4"/>
<text class="ln" transform="translate(466.2 749.9) scale(0.96 1)" text-anchor="middle">かなり少ない</text>
<text class="lb" x="465.5" y="771.9" text-anchor="middle">図の上側が降水量</text>
<text class="lb" x="465.5" y="788.2" text-anchor="middle">図の下側が日照時間</text>
</svg>
</body></html>
